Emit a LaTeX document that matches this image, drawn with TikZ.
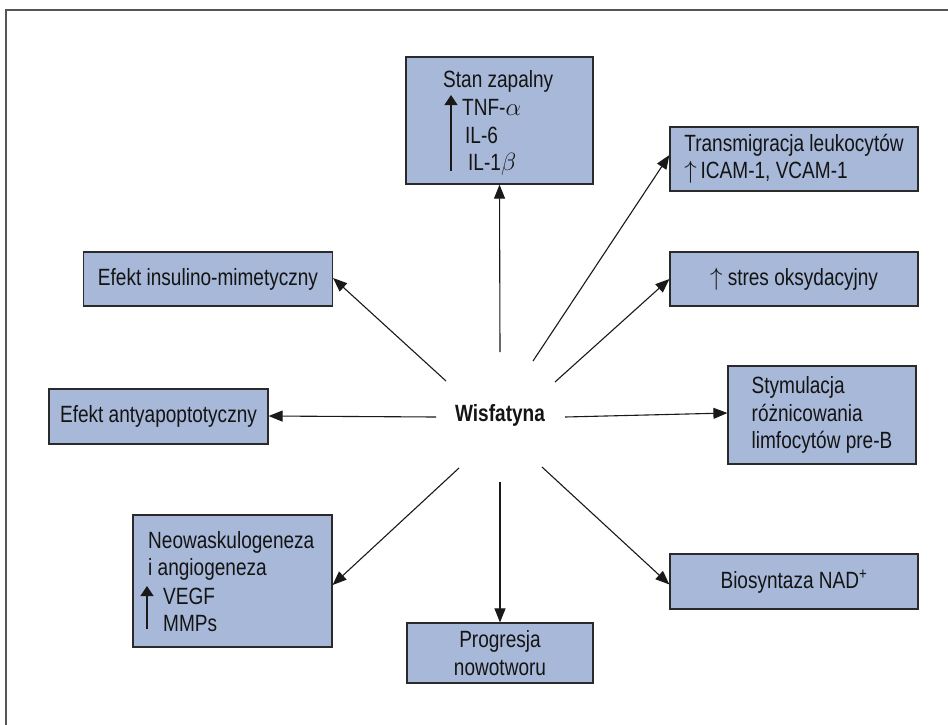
\documentclass[tikz,border=0pt]{standalone}
\usepackage{fontspec}
\setmainfont{Liberation Sans}[FakeStretch=0.81]
\usetikzlibrary{arrows.meta}
\definecolor{boxfill}{HTML}{A7B8D8}
\definecolor{boxline}{HTML}{2A2A2A}
\definecolor{framec}{HTML}{555555}
\begin{document}
\begin{tikzpicture}[x=1pt,y=-1pt,
  txt/.style={font=\fontsize{23.5}{27.5}\selectfont, text=black!92},
  box/.style={draw=boxline, line width=1.2pt, fill=boxfill, inner sep=0pt, txt, align=left},
  lbl/.style={txt, anchor=base west, inner sep=0pt},
  arr/.style={draw=black!90, line width=1.1pt, -{Triangle[length=14pt,width=11pt]}},
  inarr/.style={draw=black!90, line width=1.1pt, -{Triangle[length=10pt,width=13pt]}},
  frame/.style={draw=framec, line width=1.3pt}]
\useasboundingbox (0,0) rectangle (948,724);
% outer frame
\coordinate (f1) at (6,730);
\coordinate (f2) at (6,10);
\coordinate (f3) at (960,10);
\draw[frame] (f1) -- (f2) -- (f3);
% centre
\node[txt, font=\fontsize{23.5}{27.5}\selectfont\bfseries] (wis) at (500,415) {Wisfatyna};
% boxes
\node[box, minimum width=187, minimum height=127] (stan) at (499.5,120.5) {};
\node[lbl] (stan1) at (443,87) {Stan zapalny};
\node[lbl] (stan2) at (462,115) {TNF-$\alpha$};
\node[lbl] (stan3) at (465,143) {IL-6};
\node[lbl] (stan4) at (468,170) {IL-1$\beta$};
\coordinate (sa1) at (451,171);
\coordinate (sa2) at (451,95);
\draw[inarr] (sa1) -- (sa2);

\node[box, minimum width=248, minimum height=64] (trans) at (794,159) {Transmigracja leukocytów\\$\uparrow$\,ICAM-1, VCAM-1};
\node[box, minimum width=249, minimum height=54] (ins) at (208,279) {Efekt insulino-mimetyczny};
\node[box, minimum width=248, minimum height=54] (stres) at (794,279) {$\uparrow$ stres oksydacyjny};
\node[box, minimum width=219, minimum height=55] (anty) at (158.5,416.5) {Efekt antyapoptotyczny};
\node[box, minimum width=188, minimum height=98] (stym) at (822,415) {Stymulacja\\różnicowania\\limfocytów pre-B};

\node[box, minimum width=199, minimum height=132] (neo) at (232.5,581) {};
\node[lbl] (neo1) at (148,548) {Neowaskulogeneza};
\node[lbl] (neo2) at (148,575) {i angiogeneza};
\node[lbl] (neo3) at (163,604) {VEGF};
\node[lbl] (neo4) at (163,631) {MMPs};
\coordinate (na1) at (147,629);
\coordinate (na2) at (147,586);
\draw[inarr] (na1) -- (na2);

\node[box, minimum width=248, minimum height=55] (nad) at (794,581.5) {Biosyntaza NAD\textsuperscript{+}};
\node[box, minimum width=186, minimum height=60, align=center] (prog) at (500,653) {Progresja\\nowotworu};

% connectors
\coordinate (c1) at (500,352);
\coordinate (c2) at (533,361);
\coordinate (c3) at (555,382);
\coordinate (c4) at (446,381);
\coordinate (c5) at (436,417);
\coordinate (c6) at (565,417);
\coordinate (c7) at (459,468);
\coordinate (c8) at (500,482);
\coordinate (c9) at (542,467);
\draw[arr] (c1) -- (stan.south);
\draw[arr] (c2) -- ([yshift=4pt]trans.west);
\draw[arr] (c3) -- (stres.west);
\draw[arr] (c4) -- ([yshift=1pt]ins.east);
\draw[arr] (c5) -- ([yshift=0.5pt]anty.east);
\draw[arr] (c6) -- ([yshift=2pt]stym.west);
\draw[arr] (c7) -- ([yshift=-4pt]neo.east);
\draw[arr] (c8) -- (prog.north);
\draw[arr] (c9) -- ([yshift=-3pt]nad.west);
\end{tikzpicture}
\end{document}
